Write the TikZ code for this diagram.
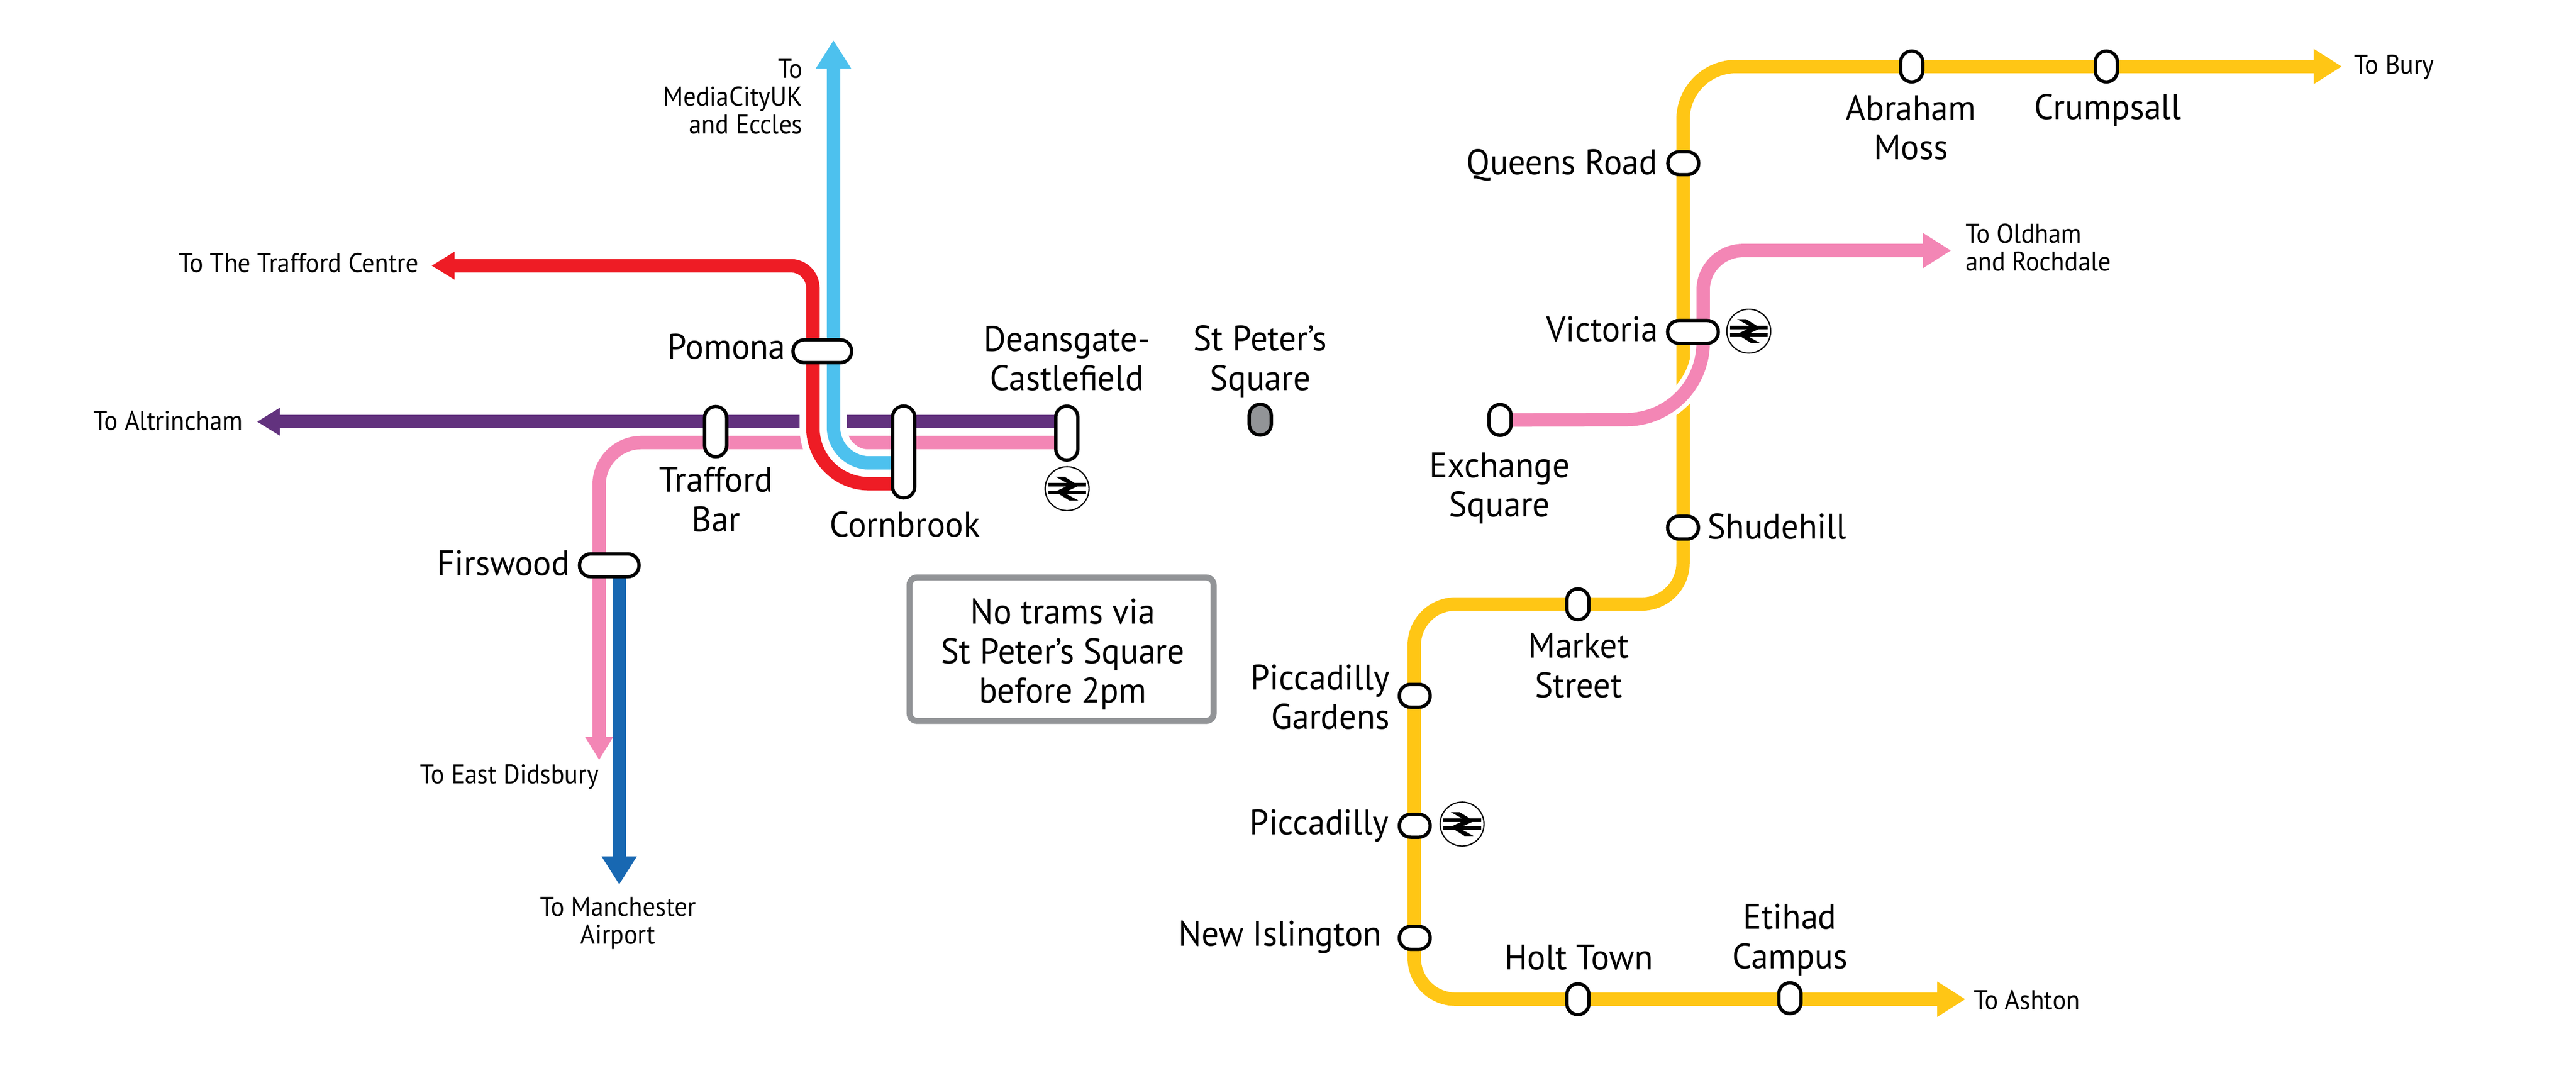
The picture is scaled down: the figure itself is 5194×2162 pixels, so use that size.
\documentclass[tikz,border=0pt]{standalone}
\usepackage{fontspec}
\setmainfont[FakeStretch=0.965]{PT Sans}
\newfontfamily\smallface[FakeStretch=0.935]{PT Sans}
\usetikzlibrary{arrows.meta,backgrounds}
\definecolor{metyellow}{HTML}{FFC615}
\definecolor{metpink}{HTML}{F386B5}
\definecolor{metred}{HTML}{EE1C25}
\definecolor{metsky}{HTML}{4DC1EE}
\definecolor{metpurple}{HTML}{62327E}
\definecolor{metblue}{HTML}{1868B2}
\definecolor{metgrey}{HTML}{929497}
\tikzset{
  x=0.2pt,y=-0.2pt,
  stn/.style={draw=black,fill=white,line width=1.35pt,inner sep=0pt,outer sep=0pt,rectangle},
  stnv/.style={stn,minimum width=8.9pt,minimum height=#1,rounded corners=4.4pt},
  stnh/.style={stn,minimum height=9.2pt,minimum width=#1,rounded corners=4.5pt},
  railc/.style={circle,draw=black,fill=white,line width=0.5pt,minimum size=17.7pt,inner sep=0pt},
  tline/.style={line width=5.4pt,line cap=butt,line join=round},
  casing/.style={line width=10.7pt,white,line cap=butt},
  bigtip/.style={-{Triangle[length=11.4pt,width=13.4pt]}},
  bothtip/.style={{Triangle[length=11.4pt,width=13.4pt]}-{Triangle[length=11.4pt,width=13.4pt]}},
  smalltip/.style={-{Triangle[length=9.3pt,width=10.6pt]}},
  mainlab/.style={inner sep=0pt,font=\fontsize{14.3}{15.9}\selectfont,align=center},
  mainr/.style={inner sep=0pt,font=\fontsize{14.3}{15.9}\selectfont,align=right},
  smalllab/.style={inner sep=0pt,font=\smallface\fontsize{10.9}{11.3}\selectfont,align=center},
  smallr/.style={inner sep=0pt,font=\smallface\fontsize{10.9}{11.3}\selectfont,align=right},
  smalll/.style={inner sep=0pt,font=\smallface\fontsize{10.9}{11.3}\selectfont,align=left},
  notebox/.style={draw=metgrey,fill=white,line width=2.45pt,rounded corners=3pt,minimum width=122.6pt,minimum height=57.8pt,inner sep=0pt},
}
\newcommand{\railsym}[3]{%
  \node[railc] (#1) at (#2,#3) {};
  \begin{scope}[shift={(#1.center)}]
    \fill[black] (-38,-11.5) rectangle (38,-4);
    \fill[black] (-38,4) rectangle (38,11.5);
    \fill[black] (-23,-24) -- (-5,-24) -- (24,-6) -- (-6,8) -- (23,24) -- (5,24) -- (-24,6) -- (6,-8) -- cycle;
  \end{scope}
}
\begin{document}
\begin{tikzpicture}
\useasboundingbox (0,0) rectangle (5194,2162);
% stations
\node[stnh=23.6pt] (pomona) at (1658,708) {};
\node[stnv=20.2pt] (trafford) at (1443,870) {};
\node[stnv=37pt] (cornbrook) at (1822,911) {};
\node[stnv=21.7pt] (deansgate) at (2151,873) {};
\node[stnh=24pt] (firswood) at (1228.5,1139.5) {};
\node[stnv=12.4pt,fill=metgrey] (stpeters) at (2541,846) {};
\node[stnh=12.4pt] (queens) at (3394,329) {};
\node[stnh=20.4pt] (victoria) at (3413.5,669) {};
\node[stnv=12.4pt] (exchange) at (3024.5,846.5) {};
\node[stnh=12.4pt] (shudehill) at (3393.5,1063.5) {};
\node[stnv=12.4pt] (market) at (3181.5,1218) {};
\node[stnh=12.4pt] (gardens) at (2852.5,1402.5) {};
\node[stnh=12.4pt] (piccadilly) at (2852.5,1664.5) {};
\node[stnh=12.4pt] (islington) at (2852.5,1890.5) {};
\node[stnv=12.4pt] (holt) at (3181.5,2014) {};
\node[stnv=12.4pt] (etihad) at (3609,2012) {};
\node[stnv=12.4pt] (abraham) at (3854.5,134) {};
\node[stnv=12.4pt] (crumpsall) at (4247,134) {};
% rail symbols
\railsym{raild}{2151.5}{985}
\railsym{railv}{3526}{667.5}
\railsym{railp}{2948}{1661}
% line ends
\coordinate (burytip) at (4722,134);
\coordinate (ashtontip) at (3963,2014);
\coordinate (oldhamtip) at (3934,505);
\coordinate (exend) at (exchange.center);
\coordinate (casend) at (3434,660);
\coordinate (didsburytip) at (1208,1532);
\coordinate (airporttip) at (1248.5,1783);
\coordinate (airportstart) at (1248.5,1139.5);
\coordinate (mediatip) at (1680.5,81);
\coordinate (traffordtip) at (870,535.5);
\coordinate (altrinchamtip) at (518,850);
\coordinate (redend) at (1822,975);
\coordinate (skyend) at (1822,933);
\coordinate (purpleend) at (2151,850);
\coordinate (pinkend) at (2151,892);
\begin{scope}[on background layer]
\fill[white] (0,0) rectangle (5194,2162);
% yellow line
\draw[tline,metyellow,bothtip,rounded corners=16.6pt] (ashtontip) -- (2851.5,2014) -- (2851.5,1217.5) -- (3393.5,1217.5) [rounded corners=21.4pt] -- (3393.5,134) -- (burytip);
% Oldham-Exchange pink
\draw[casing,line width=9pt,rounded corners=31pt] (exend) -- (3434,845.5) -- (casend);
\draw[tline,metpink,bigtip,rounded corners=31pt] (exend) -- (3434,845.5) [rounded corners=16pt] -- (3434,505) -- (oldhamtip);
% west lines
\draw[tline,metpurple,smalltip] (purpleend) -- (altrinchamtip);
\draw[tline,metpink,smalltip,rounded corners=17pt] (pinkend) -- (1208,892) -- (didsburytip);
\draw[tline,metblue,bigtip] (airportstart) -- (airporttip);
\draw[casing,rounded corners=22.6pt] (redend) -- (1639,975) -- (1639,640);
\draw[casing,rounded corners=14.5pt] (skyend) -- (1680.5,933) -- (1680.5,640);
\draw[tline,metred,smalltip,rounded corners=22.6pt] (redend) -- (1639,975) [rounded corners=9pt] -- (1639,535.5) -- (traffordtip);
\draw[tline,metsky,bigtip,rounded corners=14.5pt] (skyend) -- (1680.5,933) -- (mediatip);
\end{scope}
% note
\node[notebox] (note) at (2140.5,1308.5) {};
\node[mainlab,anchor=base] (notetext) at (2143,1416.7) {\fontsize{14.3}{17.2}\selectfont No trams via\\St Peter’s Square\\before 2pm};
% main labels
\node[mainr,anchor=base east] (lpomona) at (1585,723) {Pomona};
\node[mainlab,anchor=base] (ldeansgate) at (2151,787) {Deansgate-\\Castlefield};
\node[mainlab,anchor=base] (lstpeters) at (2541,786.5) {St Peter’s\\Square};
\node[mainlab,anchor=base] (ltrafford) at (1444,1071) {Trafford\\Bar};
\node[mainlab,anchor=base] (lcornbrook) at (1824.5,1082) {Cornbrook};
\node[mainr,anchor=base east] (lfirswood) at (1150,1160) {Firswood};
\node[mainr,anchor=base east] (lqueens) at (3343,352) {Queens Road};
\node[mainr,anchor=base east] (lvictoria) at (3344,688) {Victoria};
\node[mainlab,anchor=base] (lexchange) at (3023.5,1041.5) {Exchange\\Square};
\node[mainr,anchor=base west] (lshudehill) at (3442,1086) {Shudehill};
\node[mainlab,anchor=base] (lmarket) at (3183,1406) {Market\\Street};
\node[mainr,anchor=base east] (lgardens) at (2803,1469.5) {Piccadilly\\Gardens};
\node[mainr,anchor=base east] (lpiccadilly) at (2801,1682.5) {Piccadilly};
\node[mainr,anchor=base east] (lislington) at (2787,1907) {New Islington};
\node[mainlab,anchor=base] (lholt) at (3183,1954) {Holt Town};
\node[mainlab,anchor=base] (letihad) at (3609,1952) {Etihad\\Campus};
\node[mainlab,anchor=base] (labraham) at (3853,322) {Abraham\\Moss};
\node[mainlab,anchor=base] (lcrumpsall) at (4250,240.6) {Crumpsall};
% small labels
\node[smallr,anchor=base east] (lmedia) at (1619,270) {To\\MediaCityUK\\and Eccles};
\node[smallr,anchor=base east] (ltc) at (845,549) {To The Trafford Centre};
\node[smallr,anchor=base east] (lalt) at (491,867) {To Altrincham};
\node[smallr,anchor=base east] (ldids) at (1208,1579) {To East Didsbury};
\node[smalllab,anchor=base] (lman) at (1246,1902.5) {To Manchester\\Airport};
\node[smalll,anchor=base west] (lbury) at (4746,149) {To Bury};
\node[smalll,anchor=base west] (lold) at (3962,546) {To Oldham\\and Rochdale};
\node[smalll,anchor=base west] (lash) at (3979,2034) {To Ashton};
\end{tikzpicture}
\end{document}
